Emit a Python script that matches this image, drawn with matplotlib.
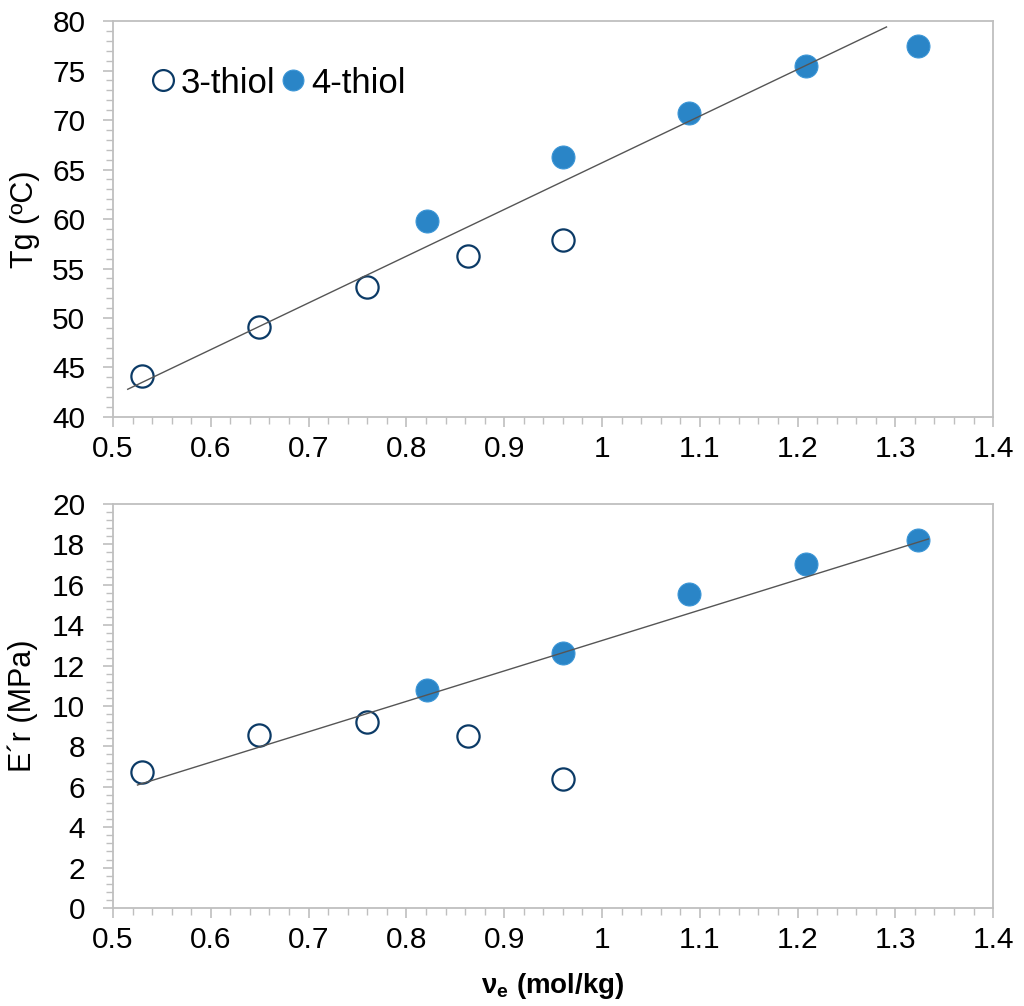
import numpy as np
import matplotlib
matplotlib.use('Agg')
import matplotlib.pyplot as plt
from matplotlib.ticker import MultipleLocator
from matplotlib.lines import Line2D

plt.rcParams['font.family'] = ['Liberation Sans', 'DejaVu Sans']
plt.rcParams['mathtext.fontset'] = 'custom'
plt.rcParams['mathtext.rm'] = 'Liberation Sans'
plt.rcParams['mathtext.bf'] = 'Liberation Sans:bold'

# crosslink density (mol/kg)
x_3thiol = [0.530, 0.649, 0.760, 0.863, 0.960]
x_4thiol = [0.821, 0.960, 1.089, 1.209, 1.323]

# Tg (ºC)
tg_3thiol = [44.1, 49.1, 53.1, 56.3, 57.9]
tg_4thiol = [59.8, 66.3, 70.7, 75.5, 77.5]
tg_trend_x = [0.515, 1.291]
tg_trend_y = [42.8, 79.4]

# E'r (MPa)
er_3thiol = [6.73, 8.56, 9.21, 8.51, 6.39]
er_4thiol = [10.79, 12.62, 15.54, 17.03, 18.22]
er_trend_x = [0.525, 1.334]
er_trend_y = [6.09, 18.27]

xticks = [0.5, 0.6, 0.7, 0.8, 0.9, 1.0, 1.1, 1.2, 1.3, 1.4]
xticklabels = ['0.5', '0.6', '0.7', '0.8', '0.9', '1', '1.1', '1.2', '1.3', '1.4']

open_col = '#0b3a66'
fill_col = '#2a85c7'
grey = '#bfbfbf'

fig = plt.figure(figsize=(10.24, 10.06), dpi=100)
ax1 = fig.add_axes([0.1104, 0.5855, 0.8594, 0.3936])
ax2 = fig.add_axes([0.1104, 0.0974, 0.8594, 0.4016])


def style(ax, ylo, yhi, ymaj, ymin):
    ax.set_xlim(0.5, 1.4)
    ax.set_ylim(ylo, yhi)
    ax.set_xticks(xticks)
    ax.set_xticklabels(xticklabels)
    ax.xaxis.set_minor_locator(MultipleLocator(0.02))
    ax.yaxis.set_major_locator(MultipleLocator(ymaj))
    ax.yaxis.set_minor_locator(MultipleLocator(ymin))
    for s in ax.spines.values():
        s.set_color(grey)
        s.set_linewidth(1.3)
    ax.tick_params(which='major', direction='out', length=7, width=1.2,
                   color=grey, labelsize=21.5)
    ax.tick_params(axis='x', which='major', pad=6)
    ax.tick_params(axis='y', which='major', pad=13)
    ax.tick_params(which='minor', direction='out', length=5, width=1.0, color=grey)


def draw(ax, y3, y4, tx, ty):
    ax.plot(x_3thiol, y3, 'o', ms=16, mfc='white', mec=open_col, mew=1.6,
            linestyle='none', zorder=3)
    ax.plot(x_4thiol, y4, 'o', ms=16.5, mfc=fill_col, mec='#3a95d6', mew=0.8,
            linestyle='none', zorder=3)
    ax.plot(tx, ty, color='#555555', lw=1.0, zorder=4)


draw(ax1, tg_3thiol, tg_4thiol, tg_trend_x, tg_trend_y)
draw(ax2, er_3thiol, er_4thiol, er_trend_x, er_trend_y)
style(ax1, 40, 80, 5, 1)
style(ax2, 0, 20, 2, 0.4)

ax1.set_ylabel('Tg (ºC)', fontsize=22)
ax2.set_ylabel('E´r (MPa)', fontsize=22)
ax1.yaxis.set_label_coords(-0.083, 0.5)
ax2.yaxis.set_label_coords(-0.085, 0.5)
ax2.set_xlabel(r'ν$_\mathbf{e}$ (mol/kg)', fontsize=20, fontweight='bold', labelpad=12)

handles = [
    Line2D([], [], marker='o', ls='none', ms=15, mfc='white', mec=open_col, mew=1.6),
    Line2D([], [], marker='o', ls='none', ms=15, mfc=fill_col, mec='#3a95d6', mew=0.8),
]
ax1.legend(handles, ['3-thiol', '4-thiol'], loc='upper left',
           bbox_to_anchor=(0.025, 0.92), ncol=2, frameon=False, fontsize=25,
           handlelength=0.8, handletextpad=0.12, columnspacing=0.1,
           borderaxespad=0)

fig.savefig('out.png', dpi=100)
